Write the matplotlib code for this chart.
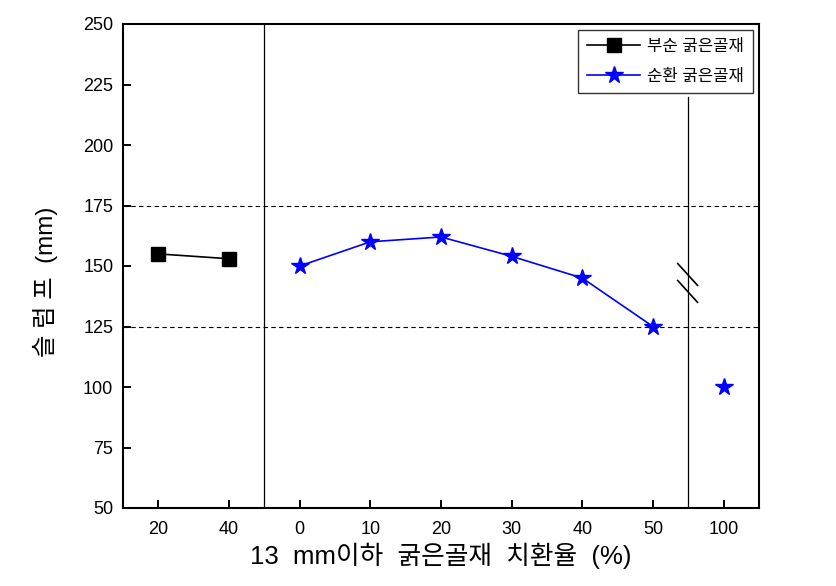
import numpy as np
import matplotlib.pyplot as plt

plt.rcParams['font.family'] = ['Liberation Sans', 'Noto Sans CJK KR', 'DejaVu Sans']

tick_labels = ['20', '40', '0', '10', '20', '30', '40', '50', '100']
natural_pos = [0, 1]
natural_slump = [155, 153]
recycled_pos = [2, 3, 4, 5, 6, 7]
recycled_slump = [150, 160, 162, 154, 145, 125]
full_pos = [8]
full_slump = [100]


def main():
    fig = plt.figure(figsize=(8.36, 5.86), dpi=100)
    # axes box in pixels: x 123..759, y 24..508
    ax = fig.add_axes([123 / 836, 1 - 508 / 586, 636 / 836, 484 / 586])

    ax.plot(natural_pos, natural_slump, color='black', marker='s',
            markersize=10, linewidth=1.2, label='부순 굵은골재')
    ax.plot(recycled_pos, recycled_slump, color='blue', marker='*',
            markersize=13, linewidth=1.2, label='순환 굵은골재')
    ax.plot(full_pos, full_slump, color='blue', marker='*',
            markersize=13, linestyle='none')

    # reference lines
    ax.axhline(175, color='black', linewidth=0.8, linestyle=(0, (4, 3)))
    ax.axhline(125, color='black', linewidth=0.8, linestyle=(0, (4, 3)))
    ax.axvline(1.5, color='black', linewidth=0.9)
    ax.axvline(7.5, ymax=0.85, color='black', linewidth=0.9)

    # axis break marks
    for dy in (0, -7):
        ax.plot([7.35, 7.63], [151 + dy, 142 + dy], color='black', linewidth=1.2)

    ax.set_xlim(-0.5, 8.5)
    ax.set_ylim(50, 250)
    ax.set_yticks(np.arange(50, 251, 25))
    ax.set_xticks(range(len(tick_labels)))
    ax.set_xticklabels(tick_labels)
    ax.tick_params(direction='in', length=6, width=1.4, labelsize=13)
    ax.tick_params(axis='y', pad=7)
    ax.tick_params(axis='x', pad=9)
    for s in ax.spines.values():
        s.set_linewidth(1.5)

    ax.set_xlabel('13  mm이하  굵은골재  치환율  (%)', fontsize=18.5, labelpad=4)
    ax.set_ylabel('슬 럼 프  (mm)', fontsize=17.5)
    ax.yaxis.set_label_coords(-0.102, 0.468)

    leg = ax.legend(loc='upper right', bbox_to_anchor=(1 - 6 / 636, 1 - 6 / 484),
                    borderaxespad=0, fontsize=12, frameon=True, fancybox=False,
                    edgecolor='black', handlelength=3.2, handletextpad=0.4,
                    borderpad=0.55, labelspacing=0.9)
    leg.get_frame().set_linewidth(1.0)

    fig.savefig('out.png', dpi=100)


if __name__ == "__main__":
    main()
